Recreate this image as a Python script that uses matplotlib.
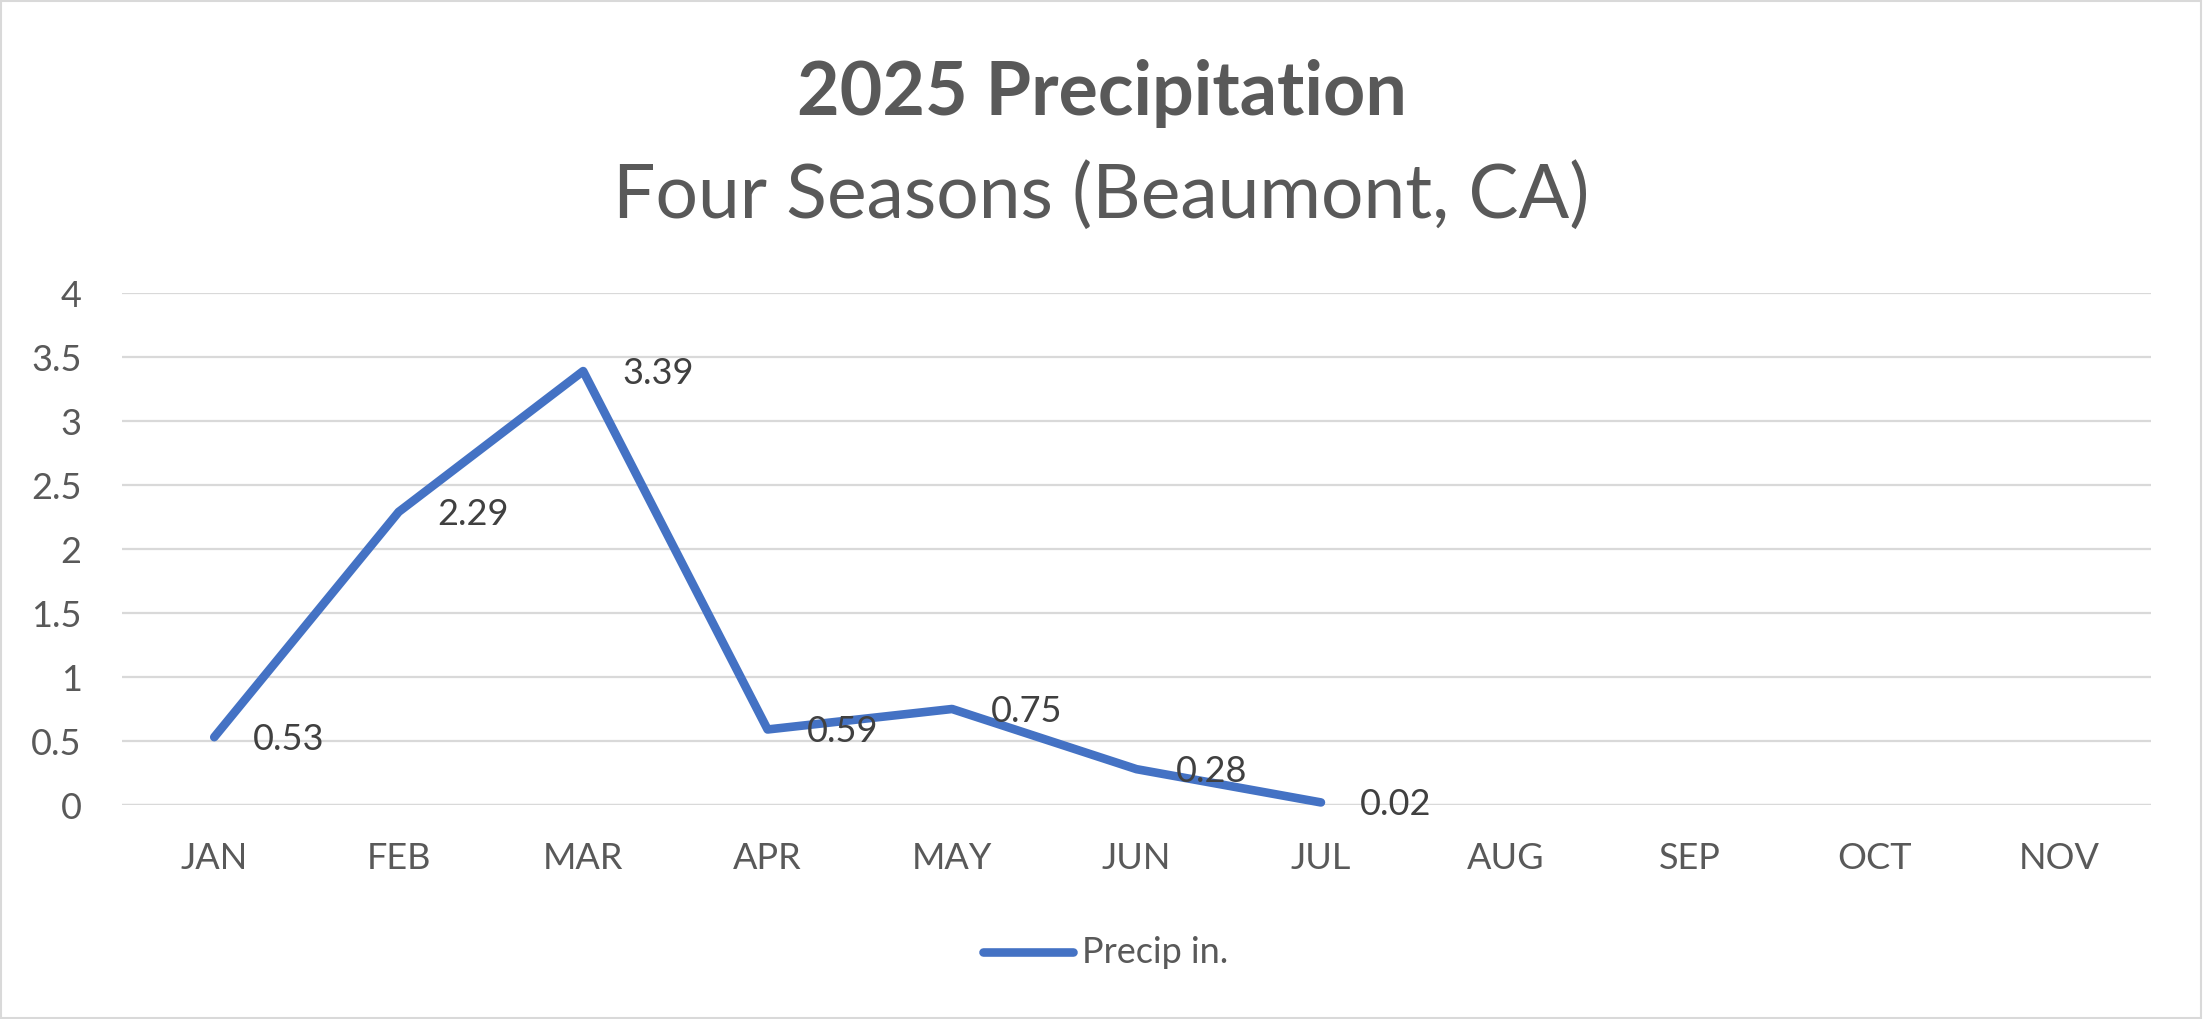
import matplotlib
matplotlib.use("Agg")
import matplotlib.pyplot as plt
from matplotlib.patches import Rectangle
from matplotlib.lines import Line2D

months = ["JAN", "FEB", "MAR", "APR", "MAY", "JUN", "JUL", "AUG", "SEP", "OCT", "NOV"]
precip = [0.53, 2.29, 3.39, 0.59, 0.75, 0.28, 0.02]
yticks = [0, 0.5, 1, 1.5, 2, 2.5, 3, 3.5, 4]
ytick_labels = ["0", "0.5", "1", "1.5", "2", "2.5", "3", "3.5", "4"]

plt.rcParams['font.family'] = ['Lato', 'DejaVu Sans']
W, H = 2203, 1020
fig = plt.figure(figsize=(W / 100, H / 100), dpi=100)
text_c = "#595959"
line_c = "#4472C4"
grid_c = "#d9d9d9"

# plot area in pixels
left, right, top, bottom = 122, 2151, 294, 806
ax = fig.add_axes([left / W, 1 - bottom / H, (right - left) / W, (bottom - top) / H])
x = list(range(len(months)))
ax.set_xlim(-0.5, len(months) - 0.5)
ax.set_ylim(0, 4)
ax.plot(x[:len(precip)], precip, color=line_c, lw=6.2, solid_joinstyle='round',
        solid_capstyle='round', clip_on=False, zorder=3)
for xi, v in zip(x, precip):
    ax.annotate(f"{v:.2f}", (xi, v), xytext=(28, -1), textcoords='offset points',
                ha='left', va='center', fontsize=26, color="#404040", zorder=4)

ax.set_yticks(yticks)
ax.set_yticklabels(ytick_labels)
ax.set_xticks(x)
ax.set_xticklabels(months)
ax.tick_params(axis='both', length=0, labelsize=26, labelcolor=text_c)
ax.tick_params(axis='x', pad=26)
ax.tick_params(axis='y', pad=29)
ax.grid(axis='y', color=grid_c, lw=1.6)
ax.set_axisbelow(True)
for s in ax.spines.values():
    s.set_visible(False)
ax.axhline(0, color=grid_c, lw=1.6, zorder=1)

fig.text(0.5, 1 - 94 / H, "2025 Precipitation", ha='center', va='center',
         fontsize=53, fontweight='bold', color=text_c)
fig.text(0.5, 1 - 196 / H, "Four Seasons (Beaumont, CA)", ha='center', va='center',
         fontsize=54, color=text_c)

# legend
ly = 1 - 953 / H
fig.add_artist(Line2D([983 / W, 1073 / W], [ly, ly], color=line_c, lw=6.2,
                      solid_capstyle='round', transform=fig.transFigure))
fig.text(1082 / W, ly, "Precip in.", ha='left', va='center', fontsize=26, color=text_c)

fig.add_artist(Rectangle((1 / W, 1 / H), 1 - 3 / W, 1 - 3 / H, transform=fig.transFigure,
                         fill=False, edgecolor="#d9d9d9", lw=1.5))
fig.savefig("out.png", dpi=100, facecolor="white")
